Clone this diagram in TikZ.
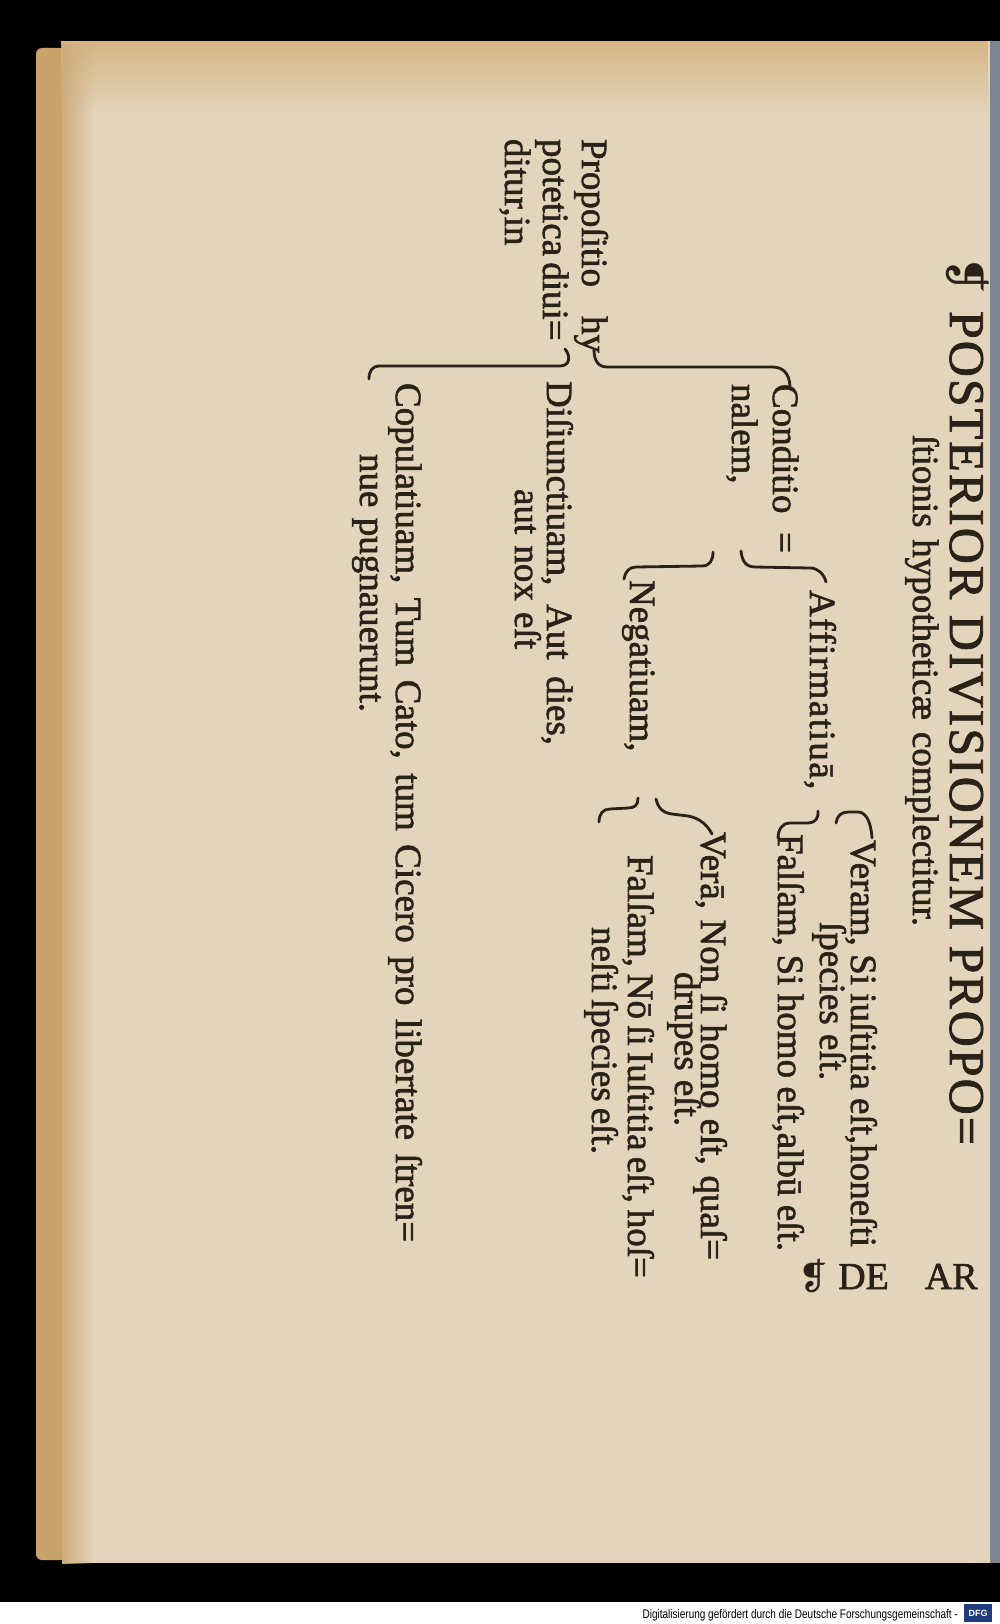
\documentclass[tikz,border=0pt]{standalone}
\usepackage{fontspec}
\usetikzlibrary{fadings}
\setmainfont{Liberation Serif}
\newfontfamily\inkfont{Liberation Serif}[FakeBold=1.6]
\newfontfamily\dejavu{DejaVu Sans}
\newfontfamily\sansf{Liberation Sans}
\definecolor{ink}{HTML}{2A2118}
\definecolor{paper}{HTML}{E3D5BC}
\definecolor{papertop}{HTML}{D6B585}
\definecolor{paperedge}{HTML}{C9A26C}
\definecolor{stripgray}{HTML}{7E8592}
\definecolor{dfgblue}{HTML}{1F3C7E}
\begin{document}
\begin{tikzpicture}[x=1pt,y=-1pt,
  txt/.style={rotate=-90, anchor=base west, inner sep=0pt, outer sep=0pt, text=ink, font=\inkfont\fontsize{37}{37}\selectfont},
  brace/.style={draw=ink, line width=2.8pt, line cap=round, line join=round}]
\useasboundingbox (0,0) rectangle (1000,1624);
% background and page
\fill[black] (0,0) rectangle (1000,1602);
\fill[white] (0,1602) rectangle (1000,1624);
\fill[paperedge, rounded corners=6pt] (36,48) rectangle (66,1560);
\fill[paper] (62,41) rectangle (990,1563);
\fill[papertop, path fading=south] (62,41) rectangle (990,115);
\fill[paperedge!80!paper, path fading=east] (62,41) rectangle (94,1563);
\fill[stripgray] (990,41) rectangle (1000,1563);
% heading
\node[rotate=-90, anchor=base west, inner sep=0pt, text=ink] (pil) at (950,256) {\dejavu\fontsize{46}{46}\selectfont ❡};
\node[txt] (h1) at (950,311) {\fontsize{50}{50}\selectfont\addfontfeature{LetterSpace=4}\makebox[834pt][s]{POSTERIOR DIVISIONEM PROPO=}};
\node[txt] (h2) at (913,435) {\makebox[491pt][s]{ſtionis hypotheticæ complectitur.}};
% catchword
\node[anchor=base west, inner sep=0pt, text=ink] (pil2) at (798,1289) {\dejavu\fontsize{36}{36}\selectfont ❡};
\node[anchor=base west, inner sep=0pt, text=ink, font=\inkfont\fontsize{38}{38}\selectfont] (deAr) at (838,1289) {DE\hspace{36pt}AR};
% main division
\node[txt] (prop1) at (582,139) {\makebox[214pt][s]{Propoſitio hy}};
\node[txt] (prop2) at (543,139) {\makebox[194pt][s]{potetica diui=}};
\node[txt] (prop3) at (505,139) {ditur,in};
% conditionalem
\node[txt] (cond) at (773,384) {\makebox[169pt][s]{Conditio =}};
\node[txt] (nalem) at (732,384) {nalem,};
\node[txt] (affirm) at (810,590) {\addfontfeature{LetterSpace=4}Affirmatiuā,};
\node[txt] (negat) at (630,580) {Negatiuam,};
\node[txt] (veram) at (851,840) {\makebox[407pt][s]{Veram, Si iuſtitia eſt,honeſti}};
\node[txt] (spec1) at (820,922) {ſpecies eſt.};
\node[txt] (fals1) at (778,834) {\makebox[417pt][s]{Falſam, Si homo eſt,albū eſt.}};
\node[txt] (vera) at (701,832) {\makebox[428pt][s]{Verā, Non ſi homo eſt, quaſ=}};
\node[txt] (drup) at (675,972) {drupes eſt.};
\node[txt] (fals2) at (628,855) {\makebox[402pt][s]{Falſam, Nō ſi Iuſtitia eſt, hoſ=}};
\node[txt] (nesti) at (592,927) {\makebox[210pt][s]{neſti ſpecies eſt.}};
% disiunctiuam / copulatiuam
\node[txt] (disi) at (547,381) {\makebox[364pt][s]{Diſiunctiuam, Aut dies,}};
\node[txt] (autnox) at (515,489) {\makebox[160pt][s]{aut nox eſt}};
\node[txt] (copu) at (396,383) {\makebox[859pt][s]{Copulatiuam, Tum Cato, tum Cicero pro libertate ſtren=}};
\node[txt] (nue) at (360,454) {\makebox[258pt][s]{nue pugnauerunt.}};
% braces
\draw[brace] (790,386) .. controls (789,372) and (782,367) .. (772,367) -- (607,367) .. controls (598,367) and (594,360) .. (594,350);
\draw[brace] (565,349) .. controls (571,356) and (570,366) .. (560,366) -- (380,366) .. controls (372,366) and (369,371) .. (369,379);
\draw[brace] (741,551) .. controls (742,560) and (745,567) .. (755,567) -- (810,568) .. controls (818,568) and (824,574) .. (826,582);
\draw[brace] (713,552) .. controls (713,560) and (710,566) .. (702,566) -- (636,567) .. controls (629,567) and (625,572) .. (624,579);
\draw[brace] (836,823) .. controls (837,816) and (841,812) .. (848,812) -- (858,812) .. controls (866,812) and (871,822) .. (872,838);
\draw[brace] (818,811) .. controls (819,818) and (815,823) .. (808,823) -- (790,823) .. controls (782,823) and (778,830) .. (778,838);
\draw[brace] (656,799) .. controls (658,808) and (663,813) .. (672,814) -- (688,816) .. controls (700,818) and (708,826) .. (712,834);
\draw[brace] (638,798) .. controls (638,805) and (635,808) .. (628,808) -- (610,809) .. controls (603,809) and (599,814) .. (599,822);
% footer
\node[anchor=base east, inner sep=0pt, xscale=0.8, font=\sansf\fontsize{12.5}{12.5}\selectfont] (dfgtxt) at (958,1618) {Digitalisierung gefördert durch die Deutsche Forschungsgemeinschaft -};
\fill[dfgblue] (964,1604) rectangle (992,1622);
\node[inner sep=0pt, text=white, font=\sansf\bfseries\fontsize{9}{9}\selectfont] (dfg) at (978,1613) {DFG};
\end{tikzpicture}
\end{document}
